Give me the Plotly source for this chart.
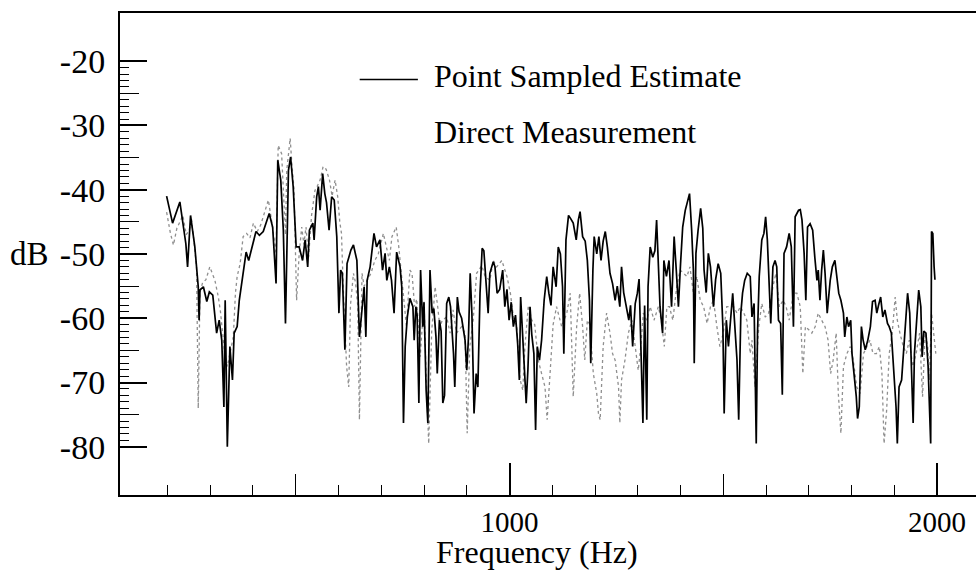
import plotly.graph_objects as go

# ---------------- data ----------------
est_freq = [198,212,229,243,247,254,264,268,272,274,276,284,292,298,306,315,321,327,332,335,
            340,346,352,356,363,368,376,384,390,397,407,415,424,438,446,454,458,465,471,476,
            483,488,494,501,508,516,522,528,532,540,543,549,553,557,563,568,572,578,584,590,
            596,601,605,609,615,620,629,635,641,643,649,654,660,664,667,674,683,689,697,703,
            709,713,719,724,730,736,744,748,752,756,761,767,774,777,781,784,788,792,797,800,
            805,809,814,819,823,828,831,836,840,844,848,853,858,862,869,872,878,882,888,896,
            900,904,908,912,917,922,926,931,936,940,945,950,954,962,966,971,977,984,989,994,
            999,1004,1009,1014,1019,1023,1026,1030,1034,1039,1043,1048,1052,1057,1061,1065,1070,1075,1081,1087,
            1092,1097,1102,1109,1114,1119,1124,1127,1132,1138,1143,1149,1156,1161,1165,1171,1177,1182,1187,1190,
            1195,1198,1204,1209,1214,1219,1224,1229,1235,1241,1247,1252,1258,1262,1267,1273,1279,1283,1288,1294,
            1299,1303,1307,1312,1316,1321,1324,1329,1335,1340,1344,1348,1352,1358,1361,1367,1373,1379,1385,1390,
            1395,1400,1405,1411,1416,1421,1426,1430,1432,1436,1441,1447,1452,1455,1460,1465,1470,1477,1482,1488,
            1494,1499,1502,1507,1512,1516,1522,1527,1532,1536,1541,1545,1550,1556,1563,1567,1572,1577,1580,1584,
            1590,1595,1599,1603,1608,1611,1616,1621,1625,1629,1634,1638,1642,1648,1654,1659,1664,1668,1676,1680,
            1684,1689,1693,1697,1703,1709,1714,1719,1722,1726,1730,1734,1738,1743,1750,1755,1761,1765,1770,1775,
            1781,1784,1789,1793,1798,1801,1806,1811,1814,1818,1823,1827,1832,1838,1844,1849,1855,1859,1863,1868,
            1873,1878,1884,1888,1893,1899,1904,1907,1911,1917,1921,1925,1931,1936,1941,1944,1947,1953,1957,1962,
            1965,1969,1974,1979,1983,1985,1987,1990,1993,1995]
est_db = [-41.0,-45.2,-41.9,-48.4,-52.0,-44.0,-48.9,-52.0,-55.1,-60.3,-55.6,-55.1,-57.4,-55.9,-56.4,-62.3,-60.3,-63.4,-73.8,-57.2,
          -80.0,-64.4,-69.6,-62.3,-61.3,-57.2,-53.0,-49.7,-51.0,-49.1,-46.5,-47.1,-46.5,-43.7,-45.8,-54.6,-35.4,-38.5,-46.3,-60.8,
          -37.0,-34.9,-39.5,-48.9,-48.9,-51.0,-47.8,-52.0,-46.3,-45.2,-47.8,-41.1,-39.5,-43.2,-37.5,-40.6,-42.0,-46.3,-41.1,-41.6,
          -47.3,-59.2,-52.5,-53.0,-64.9,-51.5,-49.4,-48.6,-50.4,-51.0,-62.9,-58.7,-55.1,-62.9,-54.1,-52.0,-46.8,-48.9,-47.8,-52.5,
          -49.9,-54.1,-52.0,-54.1,-59.2,-49.7,-52.0,-55.1,-76.3,-64.4,-59.8,-56.9,-58.2,-63.4,-58.2,-59.6,-73.2,-52.5,-61.3,-57.5,
          -71.2,-76.3,-52.5,-59.2,-58.5,-62.9,-68.6,-60.3,-62.0,-73.2,-72.0,-57.7,-56.7,-58.2,-65.5,-70.7,-56.7,-59.0,-60.0,-63.4,
          -68.1,-63.0,-53.0,-59.2,-74.8,-68.6,-70.7,-56.1,-49.1,-49.5,-54.6,-59.2,-53.0,-51.2,-52.0,-56.1,-55.5,-52.5,-58.2,-55.5,
          -60.3,-57.5,-61.3,-59.5,-63.9,-69.6,-56.7,-62.0,-65.5,-73.2,-68.0,-58.2,-62.5,-65.5,-77.4,-64.4,-66.5,-63.4,-57.2,-53.5,
          -56.1,-58.0,-52.0,-55.1,-48.9,-50.0,-55.1,-65.5,-47.8,-44.0,-44.5,-45.2,-47.8,-44.7,-43.4,-47.3,-48.0,-51.0,-57.2,-67.0,
          -52.5,-47.3,-50.0,-47.3,-51.0,-48.0,-46.5,-49.0,-53.0,-54.6,-57.2,-55.0,-58.2,-52.0,-56.0,-58.2,-60.3,-58.0,-64.4,-57.7,
          -56.1,-53.9,-62.3,-76.3,-58.0,-75.8,-55.1,-48.9,-50.5,-49.5,-44.7,-50.5,-58.2,-62.3,-51.0,-53.5,-51.0,-58.2,-47.3,-52.5,
          -58.2,-51.5,-45.8,-43.2,-42.0,-40.6,-46.3,-52.5,-67.0,-49.9,-46.3,-42.9,-46.0,-52.5,-56.0,-49.9,-52.0,-58.2,-54.0,-51.5,
          -53.0,-61.3,-74.8,-60.3,-64.4,-61.3,-56.1,-61.3,-66.5,-75.8,-59.2,-56.1,-54.1,-53.0,-53.5,-59.8,-57.7,-79.5,-62.3,-53.5,
          -47.8,-46.8,-44.2,-47.8,-55.1,-60.8,-52.0,-51.0,-52.0,-60.3,-60.8,-71.9,-49.9,-48.9,-46.8,-48.9,-61.3,-44.2,-43.2,-43.1,
          -44.7,-49.9,-57.2,-45.8,-45.3,-46.3,-50.5,-54.1,-52.5,-57.2,-52.5,-49.4,-53.0,-59.2,-54.1,-52.0,-51.0,-53.5,-56.1,-57.2,
          -59.2,-62.9,-59.8,-61.3,-60.3,-65.5,-68.6,-72.2,-75.6,-73.8,-61.3,-63.4,-64.9,-63.4,-61.3,-57.4,-57.2,-59.2,-58.0,-56.7,
          -59.8,-58.7,-60.8,-61.3,-62.3,-68.6,-73.8,-79.5,-70.7,-69.6,-65.5,-61.3,-56.1,-59.2,-72.2,-76.3,-65.5,-58.7,-55.6,-58.2,
          -66.0,-62.0,-62.3,-67.5,-74.3,-79.5,-46.5,-46.8,-52.0,-54.0]

dir_freq = [198,207,214,222,236,244,251,256,262,268,272,276,282,290,299,305,311,319,324,329,
            334,340,346,354,359,363,370,377,385,393,401,410,418,428,436,444,449,454,459,467,
            471,476,479,487,491,496,502,508,514,519,524,530,537,545,550,557,564,571,579,585,
            592,598,603,607,611,619,624,628,635,640,645,649,655,660,668,676,685,693,705,712,
            719,725,735,741,749,755,759,767,772,778,783,791,800,805,811,818,826,832,837,843,
            853,861,868,876,888,896,901,907,915,923,935,943,954,962,970,982,994,1002,1010,1017,
            1021,1025,1031,1036,1044,1052,1059,1067,1075,1083,1088,1095,1102,1110,1122,1134,1142,1149,1157,1164,
            1171,1176,1182,1188,1196,1204,1208,1212,1219,1227,1235,1241,1247,1255,1258,1262,1270,1278,1286,1294,
            1301,1307,1313,1321,1329,1338,1348,1355,1362,1368,1374,1382,1391,1399,1407,1415,1422,1430,1438,1446,
            1454,1462,1470,1477,1485,1492,1500,1508,1516,1524,1532,1540,1548,1555,1563,1567,1574,1583,1590,1598,
            1606,1616,1623,1631,1640,1647,1654,1664,1672,1680,1686,1692,1700,1707,1715,1722,1730,1738,1745,1751,
            1757,1764,1769,1775,1781,1789,1797,1804,1812,1820,1828,1836,1843,1850,1858,1865,1871,1876,1882,1888,
            1895,1902,1907,1913,1921,1928,1935,1943,1951,1959,1966,1972,1978,1982,1987,1992,1997]
dir_db = [-43.5,-46.8,-48.6,-46.0,-44.0,-47.0,-46.3,-44.5,-48.0,-52.0,-74.0,-56.0,-54.5,-54.0,-52.0,-53.0,-54.1,-56.7,-59.0,-62.3,
          -65.5,-67.5,-65.5,-62.9,-56.1,-53.5,-51.5,-47.3,-46.8,-47.5,-45.2,-46.5,-45.5,-43.2,-41.6,-45.0,-47.5,-50.0,-33.1,-34.4,
          -40.0,-47.0,-37.0,-32.0,-36.0,-40.0,-57.2,-50.0,-45.8,-48.5,-45.8,-50.5,-44.0,-40.1,-39.5,-38.5,-36.4,-36.8,-38.5,-41.0,
          -38.5,-41.0,-45.0,-46.8,-55.0,-67.5,-70.7,-58.0,-53.0,-54.5,-58.0,-75.8,-53.0,-55.0,-54.0,-53.0,-51.0,-50.0,-46.8,-48.9,
          -51.0,-47.3,-45.8,-48.9,-54.1,-58.0,-61.3,-52.5,-53.0,-58.2,-57.0,-66.0,-57.2,-69.0,-79.5,-62.0,-55.1,-58.2,-61.3,-60.3,
          -59.8,-62.3,-58.7,-62.3,-61.3,-62.3,-77.9,-64.4,-60.3,-53.0,-51.8,-53.5,-54.1,-51.0,-52.0,-51.0,-53.5,-56.1,-60.3,-61.3,
          -65.5,-69.6,-71.2,-64.4,-58.0,-60.3,-61.0,-66.5,-68.6,-70.7,-75.8,-68.6,-61.0,-58.2,-61.3,-59.2,-56.1,-72.2,-61.3,-56.1,
          -61.3,-66.5,-60.3,-61.0,-68.6,-71.7,-74.8,-75.8,-64.4,-59.2,-62.3,-65.5,-66.5,-70.7,-76.3,-69.6,-66.5,-62.3,-60.3,-64.4,
          -68.1,-64.4,-59.2,-60.3,-58.2,-60.3,-58.2,-60.3,-64.4,-58.2,-58.2,-60.3,-55.1,-52.5,-53.0,-53.5,-52.0,-56.1,-53.5,-57.2,
          -58.2,-60.8,-58.2,-57.2,-61.3,-64.4,-62.3,-58.2,-58.2,-58.2,-59.2,-58.2,-59.2,-60.3,-65.5,-63.4,-70.7,-61.3,-57.7,-59.8,
          -59.2,-55.1,-53.0,-58.2,-57.2,-58.2,-60.3,-56.1,-56.1,-58.2,-68.6,-61.3,-61.8,-62.3,-61.3,-59.2,-60.3,-61.3,-63.4,-68.6,
          -66.5,-62.3,-71.7,-77.9,-67.5,-65.5,-64.4,-66.5,-70.7,-71.7,-65.5,-64.4,-63.4,-65.5,-65.5,-64.4,-68.6,-79.5,-74.3,-65.5,
          -62.3,-56.7,-60.3,-62.3,-64.4,-65.5,-63.4,-67.5,-65.5,-62.3,-72.2,-62.3,-64.4,-69.6,-59.2,-62.3,-65.5]

x_major = [1000, 2000]
x_major_text = ["1000", "2000"]
x_medium = [500, 1500]
x_minor = [f for f in range(200, 2001, 100) if f % 500 != 0]
y_major = [-80, -70, -60, -50, -40, -30, -20]
y_major_text = ["-80", "-70", "-60", "-50", "-40", "-30", "-20"]
y_medium = [-75, -65, -55, -45, -35, -25]
y_minor = [v for v in range(-80, -19) if v % 5 != 0]

X_RANGE = [89, 2091]
Y_RANGE = [-87.5, -12.5]
SERIF = "Liberation Serif, Times New Roman, serif"

fig = go.Figure()
fig.add_trace(go.Scatter(x=dir_freq, y=dir_db, mode="lines", name="Direct Measurement",
                         line=dict(color="#8f8f8f", width=1.3, dash="dot"), showlegend=False))
fig.add_trace(go.Scatter(x=est_freq, y=est_db, mode="lines", name="Point Sampled Estimate",
                         line=dict(color="black", width=1.7), showlegend=False))
# helper (empty) trace so the overlay axes carrying the medium ticks are drawn
fig.add_trace(go.Scatter(x=[], y=[], xaxis="x2", yaxis="y2", showlegend=False, hoverinfo="skip"))

fig.update_layout(
    width=976, height=573, autosize=False,
    margin=dict(l=120, r=0, t=13, b=78),
    paper_bgcolor="white", plot_bgcolor="white",
    font=dict(family=SERIF, color="black", size=32),
    xaxis=dict(range=X_RANGE, showgrid=False, zeroline=False,
               showline=True, linecolor="black", linewidth=2, mirror=True,
               ticks="inside", tickvals=x_major, ticktext=x_major_text,
               ticklen=32, tickwidth=1.5, tickcolor="black",
               tickfont=dict(family=SERIF, size=29), ticklabelstandoff=0,
               minor=dict(tickvals=x_minor, ticks="inside", ticklen=10, tickwidth=1.2,
                          tickcolor="black", showgrid=False)),
    xaxis2=dict(range=X_RANGE, overlaying="x", anchor="y", side="bottom",
                showgrid=False, zeroline=False, showline=False,
                ticks="inside", tickvals=x_medium, ticklen=21, tickwidth=1.3,
                tickcolor="black", showticklabels=False),
    yaxis=dict(range=Y_RANGE, showgrid=False, zeroline=False,
               showline=True, linecolor="black", linewidth=2, mirror=False,
               ticks="inside", tickvals=y_major, ticktext=y_major_text,
               ticklen=27, tickwidth=1.5, tickcolor="black",
               tickfont=dict(family=SERIF, size=34), ticklabelstandoff=6,
               minor=dict(tickvals=y_minor, ticks="inside", ticklen=9, tickwidth=1.2,
                          tickcolor="black", showgrid=False)),
    yaxis2=dict(range=Y_RANGE, overlaying="y", anchor="x", side="left",
                showgrid=False, zeroline=False, showline=False,
                ticks="inside", tickvals=y_medium, ticklen=19, tickwidth=1.3,
                tickcolor="black", showticklabels=False),
    annotations=[
        dict(text="dB", xref="paper", yref="y", x=-0.106, y=-50, xanchor="center", yanchor="middle",
             showarrow=False, font=dict(family=SERIF, size=33)),
        dict(text="Frequency (Hz)", xref="paper", yref="paper", x=0.487, y=-0.118,
             xanchor="center", yanchor="middle", showarrow=False, font=dict(family=SERIF, size=32)),
        dict(text="Point Sampled Estimate", xref="paper", yref="paper", x=0.3645, y=0.869,
             xanchor="left", yanchor="middle", showarrow=False, font=dict(family=SERIF, size=32)),
        dict(text="Direct Measurement", xref="paper", yref="paper", x=0.3645, y=0.753,
             xanchor="left", yanchor="middle", showarrow=False, font=dict(family=SERIF, size=32)),
    ],
    shapes=[dict(type="line", xref="paper", yref="paper", x0=0.280, x1=0.348, y0=0.862, y1=0.862,
                 line=dict(color="black", width=1.6))],
)

fig.write_html("out.html")
